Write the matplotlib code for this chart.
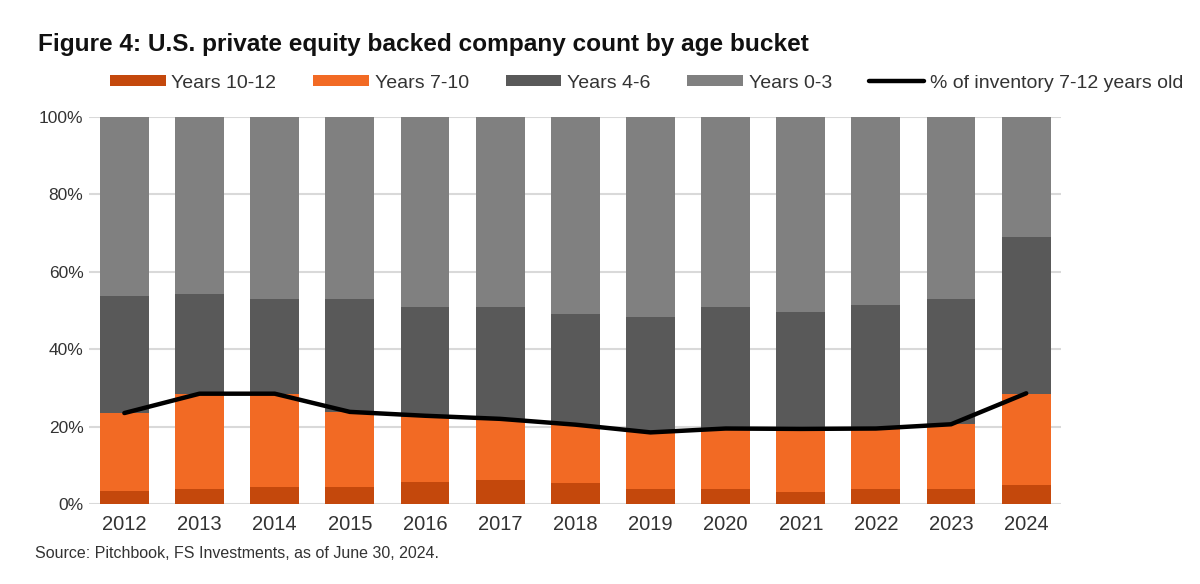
import numpy as np
import matplotlib
matplotlib.use("Agg")
import matplotlib.pyplot as plt
from matplotlib.ticker import FuncFormatter

plt.rcParams['font.family'] = ['Liberation Sans', 'DejaVu Sans']

years = ['2012', '2013', '2014', '2015', '2016', '2017', '2018',
         '2019', '2020', '2021', '2022', '2023', '2024']
# shares of inventory by age bucket, %
years_10_12 = [3.4, 3.9, 4.3, 4.5, 5.8, 6.1, 5.5, 3.8, 3.8, 3.2, 3.9, 3.8, 4.9]
years_7_10 = [20.2, 24.5, 24.0, 19.3, 16.8, 15.6, 14.9, 14.9, 15.7, 16.1, 15.6, 16.9, 23.6]
years_4_6 = [30.1, 25.9, 24.7, 29.2, 28.3, 29.2, 28.8, 29.7, 31.4, 30.3, 31.9, 32.3, 40.5]
years_0_3 = [46.3, 45.7, 47.0, 47.0, 49.1, 49.1, 50.8, 51.6, 49.1, 50.4, 48.6, 47.0, 31.0]
pct_7_12 = [23.5, 28.5, 28.5, 23.8, 22.8, 22.0, 20.5, 18.5, 19.5, 19.4, 19.5, 20.6, 28.6]

fig = plt.figure(figsize=(12, 5.84), dpi=100)
ax = fig.add_axes([0.0742, 0.137, 0.8098, 0.6627])

x = np.arange(len(years))
w = 0.65
series = [('Years 10-12', years_10_12, '#C4480C'),
          ('Years 7-10', years_7_10, '#F26A24'),
          ('Years 4-6', years_4_6, '#595959'),
          ('Years 0-3', years_0_3, '#808080')]
bottom = np.zeros(len(years))
handles = []
for name, vals, col in series:
    b = ax.bar(x, vals, w, bottom=bottom, color=col, label=name, zorder=2)
    handles.append(b)
    bottom = bottom + np.array(vals)

ln, = ax.plot(x, pct_7_12, color='black', lw=3.2, solid_joinstyle='round',
              solid_capstyle='round', zorder=3, label='% of inventory 7-12 years old')
handles.append(ln)

ax.set_xlim(-0.47, 12.46)
ax.set_ylim(0, 100)
ax.set_yticks(np.arange(0, 101, 20))
ax.yaxis.set_major_formatter(FuncFormatter(lambda v, p: '%d%%' % v))
ax.set_xticks(x)
ax.set_xticklabels(years)
ax.grid(axis='y', color='#D9D9D9', lw=1.5, zorder=0)
ax.set_axisbelow(True)
for s in ax.spines.values():
    s.set_visible(False)
ax.tick_params(length=0)
ax.tick_params(axis='x', labelsize=14.5, colors='#333333', pad=8)
ax.tick_params(axis='y', labelsize=12.5, colors='#333333', pad=4)

fig.text(0.032, 1 - 44 / 584, 'Figure 4: U.S. private equity backed company count by age bucket',
         fontsize=17.6, fontweight='bold', va='center', ha='left', color='#111111')
fig.text(0.029, 1 - 553 / 584, 'Source: Pitchbook, FS Investments, as of June 30, 2024.',
         fontsize=11.5, va='center', ha='left', color='#333333')

fig.legend(handles=handles, labels=[h.get_label() for h in handles],
           loc='center', bbox_to_anchor=(0.539, 1 - 83 / 584), ncol=5,
           frameon=False, fontsize=14, handlelength=2.85, handleheight=0.5,
           handletextpad=0.3, columnspacing=1.9, labelcolor='#333333')

fig.savefig('out.png', dpi=100)
